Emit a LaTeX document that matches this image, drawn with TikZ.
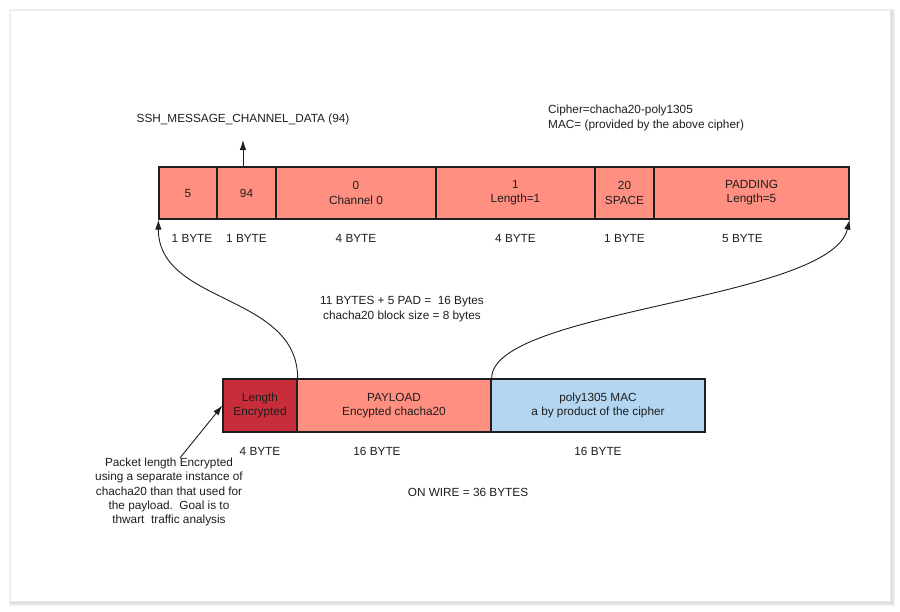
\documentclass[tikz,border=0pt]{standalone}
\usepackage{fontspec}
\setmainfont{Liberation Sans}
\usepackage{tikz}
\usetikzlibrary{arrows.meta,calc,positioning}
\definecolor{salmon}{RGB}{255,143,128}
\definecolor{lenred}{RGB}{201,45,57}
\definecolor{macblue}{RGB}{180,214,240}
\definecolor{ink}{RGB}{30,30,30}
\tikzset{
  txt/.style={font=\fontsize{11.8}{14.2}\selectfont, text=ink, align=center, inner sep=0pt},
  cell/.style={txt, draw=ink, line width=1.3pt, fill=salmon, minimum height=52pt}, % one field
  lenCell/.style={cell, fill=lenred},   % encrypted length
  macCell/.style={cell, fill=macblue},  % poly1305 tag
  byteLbl/.style={txt},
  flowArrow/.style={-{Latex[length=10pt,width=6.5pt]}, line width=0.9pt, draw=ink}
}

\begin{document}
\begin{tikzpicture}[x=1pt,y=-1pt]
  \useasboundingbox (0,0) rectangle (900,611);
  % Card with soft shadow
  \foreach \k in {1,...,6}{%
    \fill[black,opacity=0.03] ({11.5-\k*0.5},{11.5-\k*0.5}) rectangle ({890+\k*0.9},{601+\k*0.9});
  }
  \fill[white] (10,10) rectangle (890,601);
  \draw[black!8, line width=0.4pt] (10,10) rectangle (890,601);
  % Clear-text packet
  \foreach \nm/\xa/\xb/\lab in {c1/159/217/5, c2/217/276/94, c3/276/436/{0\\Channel 0},
      c4/436/595/{1\\Length=1}, c5/595/654/{20\\SPACE}, c6/654/849/{PADDING\\Length=5}}{%
    \node[cell, minimum width={(\xb-\xa)*1pt}] (\nm) at ({(\xa+\xb)/2},193) {\lab};
  }
  \foreach \nm/\dx/\lab in {c1/4/1 BYTE, c2/0/1 BYTE, c3/0/4 BYTE, c4/0/4 BYTE, c5/0/1 BYTE, c6/-9/5 BYTE}{%
    \node[byteLbl, xshift=\dx pt] (\nm b) at (\nm.south |- 0,238) {\lab};
  }
  \node[txt] (msgtype) at (243,119) {SSH\_MESSAGE\_CHANNEL\_DATA (94)};
  \coordinate (msgtip) at (243,140);
  \draw[flowArrow] (c2.north -| msgtip) -- (msgtip);
  \node[txt, anchor=west, align=left] (cipher) at (548,118) {Cipher=chacha20-poly1305\\MAC= (provided by the above cipher)};
  % On the wire
  \node[lenCell, minimum width=74pt, minimum height=53pt] (len) at (260,405.5) {Length\\Encrypted};
  \node[cell, minimum width=194pt, minimum height=53pt] (pay) at (394,405.5) {PAYLOAD\\Encypted chacha20};
  \node[macCell, minimum width=214pt, minimum height=53pt] (mac) at (598,405.5) {poly1305 MAC\\a by product of the cipher};
  \node[byteLbl] (lenb) at (len.south |- 0,451) {4 BYTE};
  \node[byteLbl, xshift=-17pt] (payb) at (pay.south |- 0,451) {16 BYTE};
  \node[byteLbl] (macb) at (mac.south |- 0,451) {16 BYTE};
  \node[txt] (blocksz) at (402,309) {11 BYTES + 5 PAD =\ \ 16 Bytes\\chacha20 block size = 8 bytes};
  \node[txt] (wire) at (468,492) {ON WIRE = 36 BYTES};
  \node[txt] (note) at (169,492) {Packet length Encrypted\\using a separate instance of\\chacha20 than that used for\\the payload.\ \ Goal is to\\thwart\ \ traffic analysis};
  % Connectors
  \draw[flowArrow] ([xshift=11pt]note.north) -- (len.west);
  \draw[flowArrow] (len.north east) .. controls +(0,-85) and +(0,85) .. (c1.south west);
  \draw[flowArrow] (pay.north east) .. controls +(0,-69) and +(-19,81) .. (c6.south east);
\end{tikzpicture}
\end{document}
